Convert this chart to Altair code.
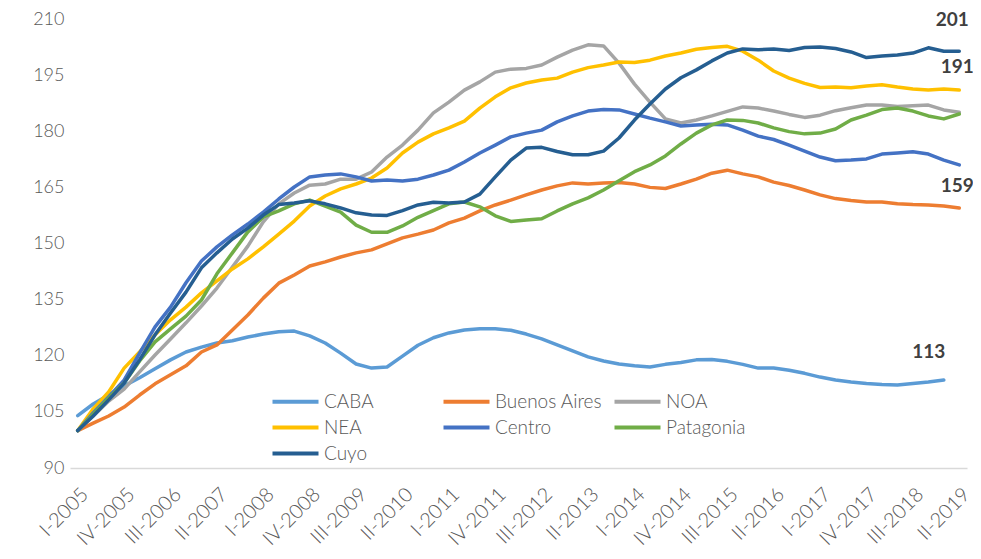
import altair as alt
import pandas as pd

romans = ["I", "II", "III", "IV"]
quarters = [f"{romans[q]}-{y}" for y in range(2005, 2020) for q in range(4)][:58]

caba = [104.0, 107.1, 109.5, 111.9, 114.1, 116.5, 118.9, 121.0, 122.3, 123.4,
        124.0, 125.0, 125.8, 126.4, 126.6, 125.3, 123.4, 120.7, 117.8, 116.7,
        117.0, 119.9, 122.8, 124.8, 126.1, 126.9, 127.2, 127.2, 126.8, 125.8,
        124.5, 122.9, 121.3, 119.7, 118.6, 117.8, 117.3, 117.0, 117.7, 118.2,
        118.9, 119.0, 118.5, 117.7, 116.7, 116.7, 116.1, 115.3, 114.3, 113.5,
        113.0, 112.6, 112.3, 112.2, 112.6, 113.0, 113.5, None]
buenos_aires = [100.0, 102.0, 103.9, 106.3, 109.5, 112.5, 114.9, 117.3, 121.0, 122.9,
                126.9, 130.9, 135.4, 139.4, 141.6, 144.0, 145.1, 146.4, 147.5, 148.3,
                149.9, 151.5, 152.5, 153.6, 155.5, 156.8, 158.7, 160.3, 161.6, 163.0,
                164.3, 165.4, 166.2, 165.9, 166.2, 166.3, 165.9, 165.0, 164.7, 165.9,
                167.2, 168.8, 169.6, 168.6, 167.8, 166.4, 165.5, 164.3, 163.0, 162.0,
                161.5, 161.1, 161.1, 160.6, 160.4, 160.3, 160.0, 159.5]
noa = [100.0, 103.9, 107.9, 111.1, 115.7, 120.2, 124.5, 128.8, 133.3, 138.1,
       143.7, 149.3, 155.8, 160.6, 163.5, 165.6, 165.9, 167.2, 167.2, 169.1,
       173.1, 176.3, 180.3, 184.9, 187.8, 191.0, 193.2, 195.8, 196.6, 196.8,
       197.7, 199.8, 201.7, 203.1, 202.8, 198.2, 192.6, 187.8, 183.3, 182.2,
       183.0, 184.1, 185.3, 186.5, 186.2, 185.4, 184.5, 183.7, 184.3, 185.5,
       186.3, 187.0, 187.0, 186.6, 186.8, 187.0, 185.7, 185.1]
nea = [100.0, 105.8, 110.3, 116.7, 121.0, 125.6, 129.6, 133.0, 136.8, 140.0,
       143.2, 145.9, 149.1, 152.5, 156.0, 160.0, 162.7, 164.6, 165.9, 167.5,
       170.2, 174.2, 177.1, 179.3, 180.9, 182.7, 186.2, 189.2, 191.6, 192.9,
       193.7, 194.2, 195.8, 197.0, 197.7, 198.5, 198.4, 199.0, 200.1, 200.9,
       201.9, 202.4, 202.7, 201.4, 199.0, 196.1, 194.2, 192.8, 191.7, 191.8,
       191.6, 192.1, 192.4, 191.8, 191.3, 191.0, 191.3, 191.0]
centro = [100.0, 104.7, 109.0, 113.5, 120.7, 127.7, 133.0, 139.5, 145.3, 149.1,
          152.3, 155.2, 158.4, 161.9, 165.1, 167.8, 168.3, 168.6, 167.8, 166.7,
          167.0, 166.7, 167.2, 168.3, 169.6, 171.8, 174.2, 176.3, 178.5, 179.5,
          180.3, 182.5, 184.1, 185.4, 185.8, 185.7, 184.6, 183.5, 182.5, 181.4,
          181.7, 181.9, 181.7, 180.3, 178.7, 177.8, 176.3, 174.7, 173.1, 172.1,
          172.3, 172.6, 173.9, 174.2, 174.5, 173.9, 172.3, 171.0]
patagonia = [100.0, 104.4, 108.7, 112.7, 118.6, 123.7, 127.2, 130.6, 134.9, 141.9,
             147.5, 153.1, 157.1, 158.7, 160.6, 161.6, 160.0, 158.4, 154.9, 153.0,
             153.0, 154.7, 157.0, 158.8, 160.6, 161.1, 159.8, 157.4, 155.9, 156.3,
             156.6, 158.7, 160.6, 162.2, 164.3, 166.8, 169.2, 171.0, 173.4, 176.6,
             179.5, 181.7, 183.0, 182.9, 182.2, 180.9, 179.9, 179.3, 179.5, 180.6,
             183.0, 184.3, 185.8, 186.2, 185.4, 184.1, 183.3, 184.6]
cuyo = [100.0, 103.9, 108.2, 112.7, 118.9, 125.6, 131.4, 137.0, 143.5, 147.5,
        151.2, 154.1, 157.6, 160.4, 160.8, 161.4, 160.6, 159.5, 158.2, 157.6,
        157.5, 158.8, 160.3, 161.0, 160.8, 161.1, 163.2, 167.8, 172.3, 175.5,
        175.7, 174.6, 173.7, 173.7, 174.7, 178.2, 183.0, 187.3, 191.3, 194.3,
        196.4, 198.8, 200.9, 202.0, 201.8, 202.0, 201.6, 202.4, 202.5, 202.1,
        201.2, 199.7, 200.1, 200.4, 200.9, 202.3, 201.4, 201.4]

series_names = ["CABA", "Buenos Aires", "NOA", "NEA", "Centro", "Patagonia", "Cuyo"]
series_values = [caba, buenos_aires, noa, nea, centro, patagonia, cuyo]
series_colors = ["#5B9BD5", "#ED7D31", "#A5A5A5", "#FFC000", "#4472C4", "#70AD47", "#255E91"]

label_texts = ["201", "191", "159", "113"]
label_quarters = ["II-2019", "II-2019", "II-2019", "I-2019"]
label_values = [201, 191, 159, 113]

y_ticks = [90, 105, 120, 135, 150, 165, 180, 195, 210]
x_ticks = quarters[::3]

rows = []
for k, (name, vals) in enumerate(zip(series_names, series_values)):
    for q, v in zip(quarters, vals):
        if v is not None:
            rows.append({"quarter": q, "value": v, "region": name, "k": k})
df = pd.DataFrame(rows)

FONT = "Lato"

x_enc = alt.X("quarter:O", sort=quarters,
              scale=alt.Scale(domain=quarters, padding=0.5),
              axis=alt.Axis(values=x_ticks, labelAngle=-45, title=None, ticks=False,
                            domain=True, domainColor="#D9D9D9", domainWidth=1.5,
                            labelFontSize=20, labelFontWeight=300, labelColor="#595959",
                            labelFont=FONT, labelPadding=16, grid=False, labelOverlap=False))
y_enc = alt.Y("value:Q", scale=alt.Scale(domain=[90, 210], nice=False, zero=False),
              axis=alt.Axis(values=y_ticks, title=None, ticks=False, domain=False, grid=False,
                            labelFontSize=18, labelFontWeight=300, labelColor="#595959",
                            labelFont=FONT, labelPadding=6))
color_enc = alt.Color("region:N", sort=series_names,
                      scale=alt.Scale(domain=series_names, range=series_colors),
                      legend=alt.Legend(title=None, orient="none", legendX=212, legendY=369,
                                        direction="horizontal",
                                        columns=3, symbolType="M-2,0L2,0", symbolSize=529,
                                        symbolStrokeWidth=4, labelFontSize=19,
                                        labelFontWeight=300,
                                        labelColor="#595959", labelFont=FONT,
                                        gridAlign="all", columnPadding=3, rowPadding=2,
                                        labelOffset=15, padding=0))

lines = alt.Chart(df).mark_line(strokeWidth=3.5, strokeJoin="round", strokeCap="round").encode(
    x=x_enc, y=y_enc, color=color_enc, detail="k:O"
)

lab_df = pd.DataFrame({"text": label_texts, "quarter": label_quarters, "value": label_values})
offsets = {"201": (-7, -33), "191": (-2, -23), "159": (-2, -24), "113": (-15, -30)}
layers = [lines]
for t in label_texts:
    dx, dy = offsets[t]
    layers.append(
        alt.Chart(lab_df).transform_filter(alt.datum.text == t)
        .mark_text(fontSize=19, fontWeight="bold", color="#404040", font=FONT, dx=dx, dy=dy)
        .encode(x=alt.X("quarter:O", sort=quarters), y=alt.Y("value:Q"), text="text:N")
    )

chart = alt.layer(*layers).properties(
    width=897, height=449,
    title=alt.TitleParams("Índice 2005=100 por regiones", fontSize=24, font=FONT,
                          fontWeight=300, color="#595959", offset=10, anchor="middle"),
    autosize=alt.AutoSizeParams(type="none"),
    padding={"left": 62, "top": 11, "right": 6, "bottom": 83},
).configure_view(stroke=None)

chart.save("out.html", embed_options={"renderer": "svg", "actions": False})
